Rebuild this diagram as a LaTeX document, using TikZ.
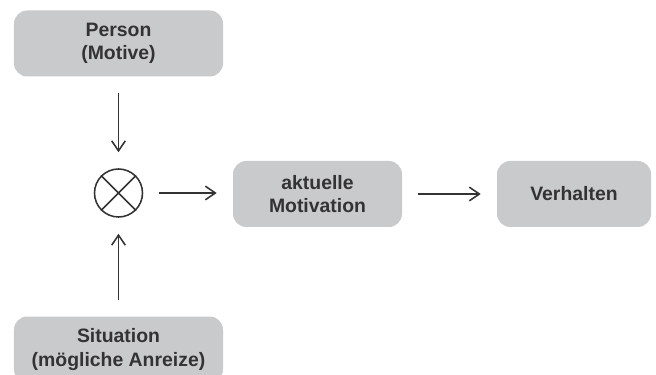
\documentclass[tikz,border=0pt]{standalone}
\usepackage{fontspec}
\setmainfont{Liberation Sans}
\usetikzlibrary{shapes}
\usetikzlibrary{arrows.meta}
\usetikzlibrary{positioning}
\usetikzlibrary{calc}
\definecolor{boxgray}{HTML}{C9CACC}
\definecolor{ink}{HTML}{333333}
\begin{document}
\begin{tikzpicture}
\tikzstyle{faktor}=[
        rectangle,
        rounded corners=0.33cm,
        fill=boxgray,
        text=ink,
        font=\bfseries\fontsize{13.8}{16.4}\selectfont,
        align=center,
        minimum height=1.65cm
]
\tikzstyle{verkn}=[circle,draw=ink,line width=1.1pt,minimum size=1.2cm,inner sep=0pt]
%stil der pfeile
\tikzstyle{pfeil}=[-{Straight Barb[length=0.25cm,width=0.34cm]},line width=1.1pt,draw=ink,
        shorten >=0.4cm,shorten <=0.4cm]
\useasboundingbox (0,0) rectangle (16.4,9.35);
%platzierung der knoten
\node[faktor,minimum width=5.225cm] (person) at (2.9625,8.2625) {Person\\(Motive)};
\node[verkn] (mal) at (2.9625,4.525) {};
\node[faktor,minimum width=5.225cm] (situation) at (2.9625,0.6125) {Situation\\(mögliche Anreize)};
\node[faktor,minimum width=4.225cm] (motivation) at (7.9375,4.5) {aktuelle\\Motivation};
\node[faktor,minimum width=3.85cm] (verhalten) at (14.35,4.5) {Verhalten};
\draw[ink,line width=1.1pt] (mal.45) -- (mal.225) (mal.135) -- (mal.-45);
%platzierung der pfeile
\draw[pfeil] (person) -- (mal);
\draw[pfeil] (situation) -- (mal);
\draw[pfeil] (mal) -- (mal -| motivation.west);
\draw[pfeil] (motivation) -- (verhalten);
\end{tikzpicture}
\end{document}
